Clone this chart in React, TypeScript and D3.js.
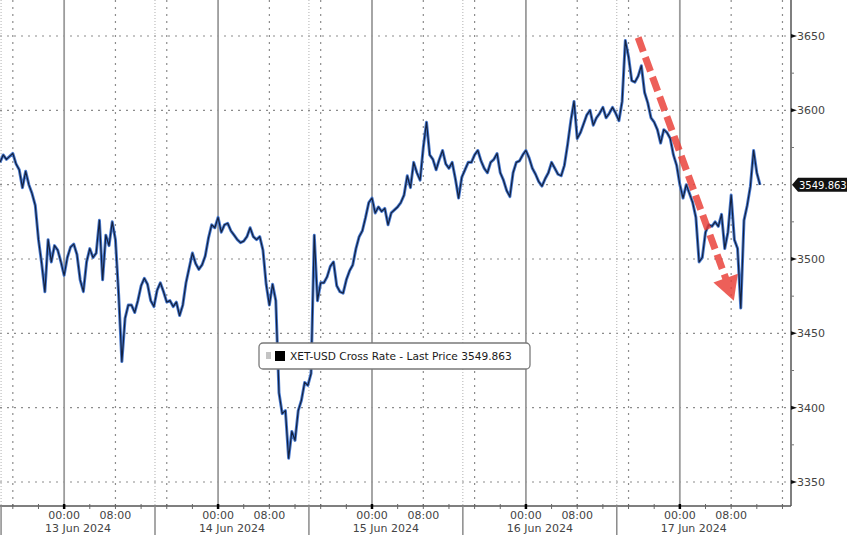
import React from 'react';
import * as d3 from 'd3';

// XET-USD cross rate, 30 minute closes from 12 Jun 2024 14:00
const seriesStart = Date.UTC(2024, 5, 12, 14, 0);
const stepMinutes = 30;
const prices = [
  3565, 3570, 3567, 3569, 3571, 3564, 3560, 3548, 3559, 3550,
  3544, 3536, 3513, 3497, 3478, 3513, 3498, 3509, 3506, 3498,
  3489, 3501, 3508, 3510, 3503, 3486, 3478, 3498, 3507, 3501,
  3504, 3526, 3486, 3516, 3509, 3525, 3513, 3476, 3431, 3460,
  3469, 3469, 3464, 3472, 3482, 3487, 3483, 3472, 3468, 3479,
  3484, 3478, 3471, 3472, 3468, 3471, 3462, 3469, 3484, 3494,
  3504, 3497, 3493, 3496, 3502, 3514, 3523, 3521, 3528, 3518,
  3523, 3524, 3519, 3516, 3513, 3511, 3512, 3515, 3521, 3515,
  3513, 3515, 3506, 3483, 3469, 3483, 3472, 3410, 3396, 3398,
  3366, 3384, 3378, 3398, 3405, 3417, 3415, 3423, 3516, 3472,
  3484, 3484, 3488, 3495, 3498, 3482, 3478, 3477, 3486, 3492,
  3496, 3507, 3515, 3519, 3528, 3538, 3541, 3531, 3535, 3532,
  3534, 3523, 3531, 3533, 3535, 3538, 3543, 3556, 3548, 3565,
  3558, 3553, 3575, 3592, 3570, 3567, 3560, 3567, 3573, 3564,
  3561, 3565, 3554, 3541, 3555, 3560, 3565, 3565, 3570, 3573,
  3566, 3561, 3558, 3565, 3567, 3571, 3558, 3553, 3546, 3542,
  3558, 3565, 3566, 3570, 3573, 3568, 3561, 3557, 3552, 3549,
  3554, 3558, 3565, 3561, 3557, 3556, 3563, 3577, 3593, 3606,
  3581, 3585, 3591, 3597, 3600, 3590, 3595, 3598, 3602, 3595,
  3598, 3602, 3598, 3593, 3606, 3647, 3636, 3620, 3619, 3623,
  3630, 3612, 3605, 3595, 3592, 3587, 3578, 3587, 3585, 3581,
  3570, 3563, 3550, 3541, 3550, 3544, 3538, 3528, 3498, 3501,
  3518, 3523, 3522, 3525, 3522, 3530, 3507, 3518, 3543, 3513,
  3507, 3467, 3526, 3536, 3549, 3573, 3558, 3549.863,
];
const lastPrice = 3549.863;
const seriesName = 'XET-USD Cross Rate - Last Price';

const yTicks = [3350, 3400, 3450, 3500, 3550, 3600, 3650];
const yMinorTicks = [3375, 3425, 3475, 3525, 3575, 3625];
const dayLabels = ['13 Jun 2024', '14 Jun 2024', '15 Jun 2024', '16 Jun 2024', '17 Jun 2024'];

// red annotation arrow: [time, price] start and tip
const arrowFrom: [number, number] = [Date.UTC(2024, 5, 16, 17, 30), 3649];
const arrowTo: [number, number] = [Date.UTC(2024, 5, 17, 8, 25), 3472];

const W = 848;
const H = 535;
const right = 791;
const bottom = 506;

const axisFont = '"DejaVu Sans", Tahoma, sans-serif';

export default function App() {
  const hour = 3600 * 1000;
  const times = prices.map((_, i) => new Date(seriesStart + i * stepMinutes * 60 * 1000));

  const x = d3.scaleUtc()
    .domain([new Date(seriesStart), new Date(seriesStart + 123.33 * hour)])
    .range([0, right]);
  const y = d3.scaleLinear().domain([3350, 3650]).range([482, 36]);

  const line = d3.line<number>()
    .x((_, i) => x(times[i]))
    .y(d => y(d));
  const path = line(prices) || '';

  const [d0, d1] = x.domain();
  const fourHours = d3.utcHour.every(4)!.range(d0, d1);
  const midnights = fourHours.filter(t => t.getUTCHours() === 0);
  const dotted = fourHours.filter(t => t.getUTCHours() === 8 || t.getUTCHours() === 16);
  const labelled = fourHours.filter(t => t.getUTCHours() === 0 || t.getUTCHours() === 8);

  // session separators at 14:10 each day
  const separators = dayLabels.map((_, i) => new Date(Date.UTC(2024, 5, 12 + i, 14, 10)));
  const sepNext = new Date(Date.UTC(2024, 5, 17, 14, 10));

  // arrow geometry
  const ax0 = x(new Date(arrowFrom[0]));
  const ay0 = y(arrowFrom[1]);
  const ax1 = x(new Date(arrowTo[0]));
  const ay1 = y(arrowTo[1]);
  const len = Math.hypot(ax1 - ax0, ay1 - ay0);
  const ux = (ax1 - ax0) / len;
  const uy = (ay1 - ay0) / len;
  const headLen = 24;
  const headW = 13;
  const bx = ax1 - ux * headLen;
  const by = ay1 - uy * headLen;
  const head = `M${ax1},${ay1}L${bx - uy * headW},${by + ux * headW}L${bx + uy * headW},${by - ux * headW}Z`;

  const yl = y(lastPrice);

  return (
    <div style={{ position: 'fixed', left: 0, top: 0 }}>
      <svg width={W} height={H} style={{ display: 'block', background: '#fff' }}>
        {/* horizontal grid */}
        {yTicks.map(v => (
          <line key={'h' + v} x1={0} x2={right} y1={y(v)} y2={y(v)}
            stroke="#8c8c8c" strokeWidth={1.2} strokeDasharray="2,5" />
        ))}
        {/* vertical grid */}
        {dotted.map(t => (
          <line key={'d' + t.getTime()} x1={x(t)} x2={x(t)} y1={0} y2={bottom}
            stroke="#8c8c8c" strokeWidth={1.2} strokeDasharray="2,5" />
        ))}
        {separators.map(t => (
          <line key={'s' + t.getTime()} x1={x(t)} x2={x(t)} y1={0} y2={bottom}
            stroke="#b0b0b0" strokeWidth={1} strokeDasharray="1,2" />
        ))}
        {midnights.map(t => (
          <line key={'m' + t.getTime()} x1={x(t)} x2={x(t)} y1={0} y2={bottom}
            stroke="#9c9c9c" strokeWidth={1.8} />
        ))}

        {/* series */}
        <path d={path} fill="none" stroke="#4a7bd0" strokeWidth={3} strokeLinejoin="round" />
        <path d={path} fill="none" stroke="#13213f" strokeWidth={1.2} strokeLinejoin="round" />

        {/* annotation arrow */}
        <g opacity={0.82}>
          <line x1={ax0} y1={ay0} x2={bx + ux * 2} y2={by + uy * 2}
            stroke="#ea3d35" strokeWidth={7} strokeDasharray="15,6" />
          <path d={head} fill="#ea3d35" />
        </g>

        {/* legend */}
        <g>
          <rect x={259} y={343} width={271} height={26} rx={4} fill="#fff" stroke="#7a7a7a" strokeWidth={1.3} />
          <rect x={266} y={352} width={5} height={7} fill="#c4c4c4" />
          <rect x={275} y={351} width={10} height={10} fill="#000" />
          <text x={290} y={360} fontFamily={axisFont} fontSize={10.6} fill="#1a1a1a">
            {`${seriesName} ${lastPrice.toFixed(3)}`}
          </text>
        </g>

        {/* right axis */}
        <line x1={right} x2={right} y1={0} y2={bottom} stroke="#555" strokeWidth={1.5} />
        {yMinorTicks.map(v => (
          <line key={'mi' + v} x1={right} x2={right + 3} y1={y(v)} y2={y(v)} stroke="#777" strokeWidth={1} />
        ))}
        {yTicks.filter(v => v !== 3550).map(v => (
          <g key={'yt' + v}>
            <path d={`M${right},${y(v) - 2}L${right + 6},${y(v)}L${right},${y(v) + 2}Z`} fill="#111" />
            <text x={797} y={y(v) + 4} fontFamily={axisFont} fontSize={11} fill="#444">{v}</text>
          </g>
        ))}
        <path d={`M${right + 1},${yl}L${right + 7},${yl - 7}L${W - 1},${yl - 7}L${W - 1},${yl + 7}L${right + 7},${yl + 7}Z`}
          fill="#111" />
        <text x={799} y={yl + 4} fontFamily={axisFont} fontSize={10} fill="#fff">{lastPrice.toFixed(3)}</text>

        {/* bottom axis */}
        <line x1={0} x2={right} y1={bottom} y2={bottom} stroke="#555" strokeWidth={1.5} />
        {fourHours.map(t => (
          <line key={'bt' + t.getTime()} x1={x(t)} x2={x(t)} y1={bottom - 2} y2={bottom + 3}
            stroke={t.getUTCHours() === 0 ? '#000' : '#666'} strokeWidth={t.getUTCHours() === 0 ? 2.5 : 1} />
        ))}
        {separators.map(t => (
          <line key={'sb' + t.getTime()} x1={x(t)} x2={x(t)} y1={bottom} y2={H}
            stroke="#8a8a8a" strokeWidth={1.5} />
        ))}
        {labelled.map(t => (
          <text key={'tl' + t.getTime()} x={x(t)} y={519} textAnchor="middle"
            fontFamily={axisFont} fontSize={11} fill="#444">
            {d3.utcFormat('%H:%M')(t)}
          </text>
        ))}
        {dayLabels.map((label, i) => {
          const a = x(separators[i]);
          const b = x(i + 1 < separators.length ? separators[i + 1] : sepNext);
          return (
            <text key={label} x={(a + b) / 2} y={532} textAnchor="middle"
              fontFamily={axisFont} fontSize={11} fill="#444">
              {label}
            </text>
          );
        })}
      </svg>
    </div>
  );
}
